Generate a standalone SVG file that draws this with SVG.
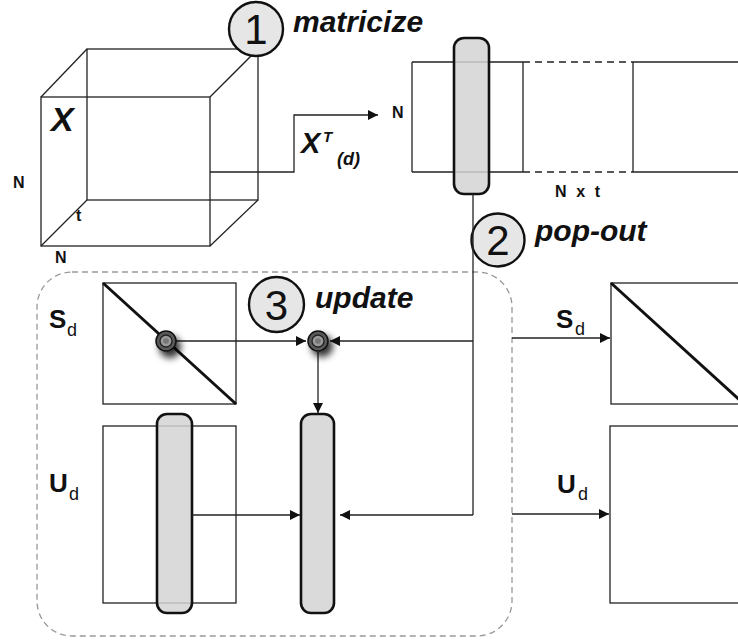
<svg xmlns="http://www.w3.org/2000/svg" width="738" height="640" viewBox="0 0 738 640">
<style>
.ln{fill:none;stroke:#222;stroke-width:1.3}
.dash{fill:none;stroke:#222;stroke-width:1.3;stroke-dasharray:7 5}
.box{fill:#fff;stroke:#222;stroke-width:1.3}
.diag{stroke:#111;stroke-width:3}
.pill{fill:#d4d4d4;fill-opacity:0.85;stroke:#111;stroke-width:2.6}
.step{fill:#e6e6e6;stroke:#111;stroke-width:2.4}
.digit{font-family:"Liberation Sans",Arial,sans-serif;font-size:42px;fill:#111;text-anchor:middle}
.lbl{font-family:"Liberation Sans",Arial,sans-serif;font-style:italic;font-weight:bold;font-size:30px;fill:#111}
.nb{font-family:"Liberation Sans",Arial,sans-serif;font-weight:bold;font-size:16px;fill:#111}
.it{font-family:"Liberation Sans",Arial,sans-serif;font-style:italic;fill:#111}
.big{font-family:"Liberation Sans",Arial,sans-serif;font-weight:bold;font-size:26px;fill:#111}
.sub{font-family:"Liberation Sans",Arial,sans-serif;font-size:18px;fill:#111}
.conn{fill:none;stroke:#222;stroke-width:1.3}
.group{fill:none;stroke:#999;stroke-width:1.3;stroke-dasharray:6 4}
</style>
<defs>
<marker id="ah" viewBox="0 0 10 10" refX="10" refY="5" markerWidth="10" markerHeight="10" markerUnits="userSpaceOnUse" orient="auto">
<path d="M0,0 L10,5 L0,10 z" fill="#111"/>
</marker>
<filter id="blur" x="-1" y="-1" width="3" height="3"><feGaussianBlur stdDeviation="3.5"/></filter>
</defs>

<g id="cube">
<rect class="ln" x="87" y="49" width="171" height="151"/>
<rect class="ln" x="41" y="97" width="169" height="149"/>
<line class="ln" x1="41" y1="97" x2="87" y2="49"/>
<line class="ln" x1="210" y1="97" x2="258" y2="49"/>
<line class="ln" x1="210" y1="246" x2="258" y2="200"/>
<line class="ln" x1="41" y1="246" x2="87" y2="200"/>
<text class="it" x="51" y="131" font-size="34" font-weight="bold">X</text>
<text class="nb" x="13" y="188">N</text>
<text class="nb" x="55" y="263">N</text>
<text class="nb" x="76" y="221" font-size="17">t</text>
</g>

<g id="step1">
<circle class="step" cx="256" cy="29" r="27"/>
<text class="digit" x="256" y="44">1</text>
<text class="lbl" x="293" y="32">matricize</text>
</g>

<g id="matrix">
<line class="ln" x1="412" y1="62" x2="523" y2="62"/>
<line class="ln" x1="412" y1="172" x2="523" y2="172"/>
<line class="dash" x1="523" y1="62" x2="633" y2="62"/>
<line class="dash" x1="523" y1="172" x2="633" y2="172"/>
<line class="ln" x1="633" y1="62" x2="740" y2="62"/>
<line class="ln" x1="633" y1="172" x2="740" y2="172"/>
<line class="ln" x1="412" y1="62" x2="412" y2="172"/>
<line class="ln" x1="523" y1="62" x2="523" y2="172"/>
<line class="ln" x1="633" y1="62" x2="633" y2="172"/>
<rect class="pill" x="454" y="38" width="35" height="156" rx="10"/>
<text class="nb" x="392" y="118" font-size="17">N</text>
<text class="nb" x="555" y="197" textLength="45" lengthAdjust="spacing">N x t</text>
</g>

<g id="step2">
<circle class="step" cx="498" cy="240" r="26.5"/>
<text class="digit" x="498" y="255">2</text>
<text class="lbl" x="535" y="241">pop-out</text>
</g>

<g id="update-group">
<rect class="group" x="37" y="272" width="475" height="364" rx="35"/>
</g>

<g id="step3">
<circle class="step" cx="276.5" cy="304.5" r="27.5"/>
<text class="digit" x="276.5" y="320">3</text>
<text class="lbl" x="315" y="308">update</text>
</g>

<g id="S-left">
<rect class="box" x="103" y="283" width="133" height="121"/>
<line class="diag" x1="103" y1="283" x2="236" y2="404"/>
<text class="big" x="49" y="328">S</text>
<text class="sub" x="67" y="336">d</text>
</g>

<g id="U-left">
<rect class="box" x="103" y="426" width="133" height="177"/>
<rect class="pill" x="157" y="414" width="35" height="199" rx="10"/>
<text class="big" x="49" y="492">U</text>
<text class="sub" x="69" y="500">d</text>
</g>

<g id="U-new">
<rect class="pill" x="301" y="414" width="33" height="199" rx="10" fill-opacity="1"/>
</g>

<g id="S-right">
<rect class="box" x="611" y="283" width="160" height="121"/>
<line class="diag" x1="611" y1="283" x2="744" y2="404"/>
<text class="big" x="556" y="328">S</text>
<text class="sub" x="575" y="335">d</text>
</g>

<g id="U-right">
<rect class="box" x="610" y="426" width="160" height="177"/>
<text class="big" x="557" y="493">U</text>
<text class="sub" x="578" y="500">d</text>
</g>

<g id="connectors">
<polyline class="conn" points="210,172 294,172 294,115 378,115" marker-end="url(#ah)"/>
<text class="it" x="301" y="153" font-size="29" font-weight="bold">X</text>
<text class="it" x="323" y="142" font-size="15" font-weight="bold">T</text>
<text class="it" x="337" y="165" font-size="18" font-weight="bold">(d)</text>
<line class="conn" x1="473" y1="194" x2="473" y2="515"/>
<line class="conn" x1="473" y1="341" x2="330" y2="341" marker-end="url(#ah)"/>
<line class="conn" x1="473" y1="515" x2="340" y2="515" marker-end="url(#ah)"/>
<line class="conn" x1="176" y1="341" x2="306" y2="341" marker-end="url(#ah)"/>
<line class="conn" x1="318" y1="352" x2="318" y2="413" marker-end="url(#ah)"/>
<line class="conn" x1="192" y1="515" x2="300" y2="515" marker-end="url(#ah)"/>
<line class="conn" x1="512" y1="338" x2="610" y2="338" marker-end="url(#ah)"/>
<line class="conn" x1="512" y1="514" x2="609" y2="514" marker-end="url(#ah)"/>
</g>

<g id="point-diag">
<circle cx="170" cy="347" r="11" fill="#000" opacity="0.8" filter="url(#blur)"/>
<circle cx="166" cy="341" r="10" fill="#5a5a5a" stroke="#111" stroke-width="1.5"/>
<circle cx="166" cy="341" r="6" fill="#9a9a9a" stroke="#222" stroke-width="1.3"/>
<circle cx="166" cy="341" r="2.8" fill="#777"/>
</g>

<g id="point-update">
<circle cx="322" cy="346" r="11" fill="#000" opacity="0.8" filter="url(#blur)"/>
<circle cx="318" cy="341" r="10" fill="#5a5a5a" stroke="#111" stroke-width="1.5"/>
<circle cx="318" cy="341" r="6" fill="#9a9a9a" stroke="#222" stroke-width="1.3"/>
<circle cx="318" cy="341" r="2.8" fill="#777"/>
</g>
</svg>
